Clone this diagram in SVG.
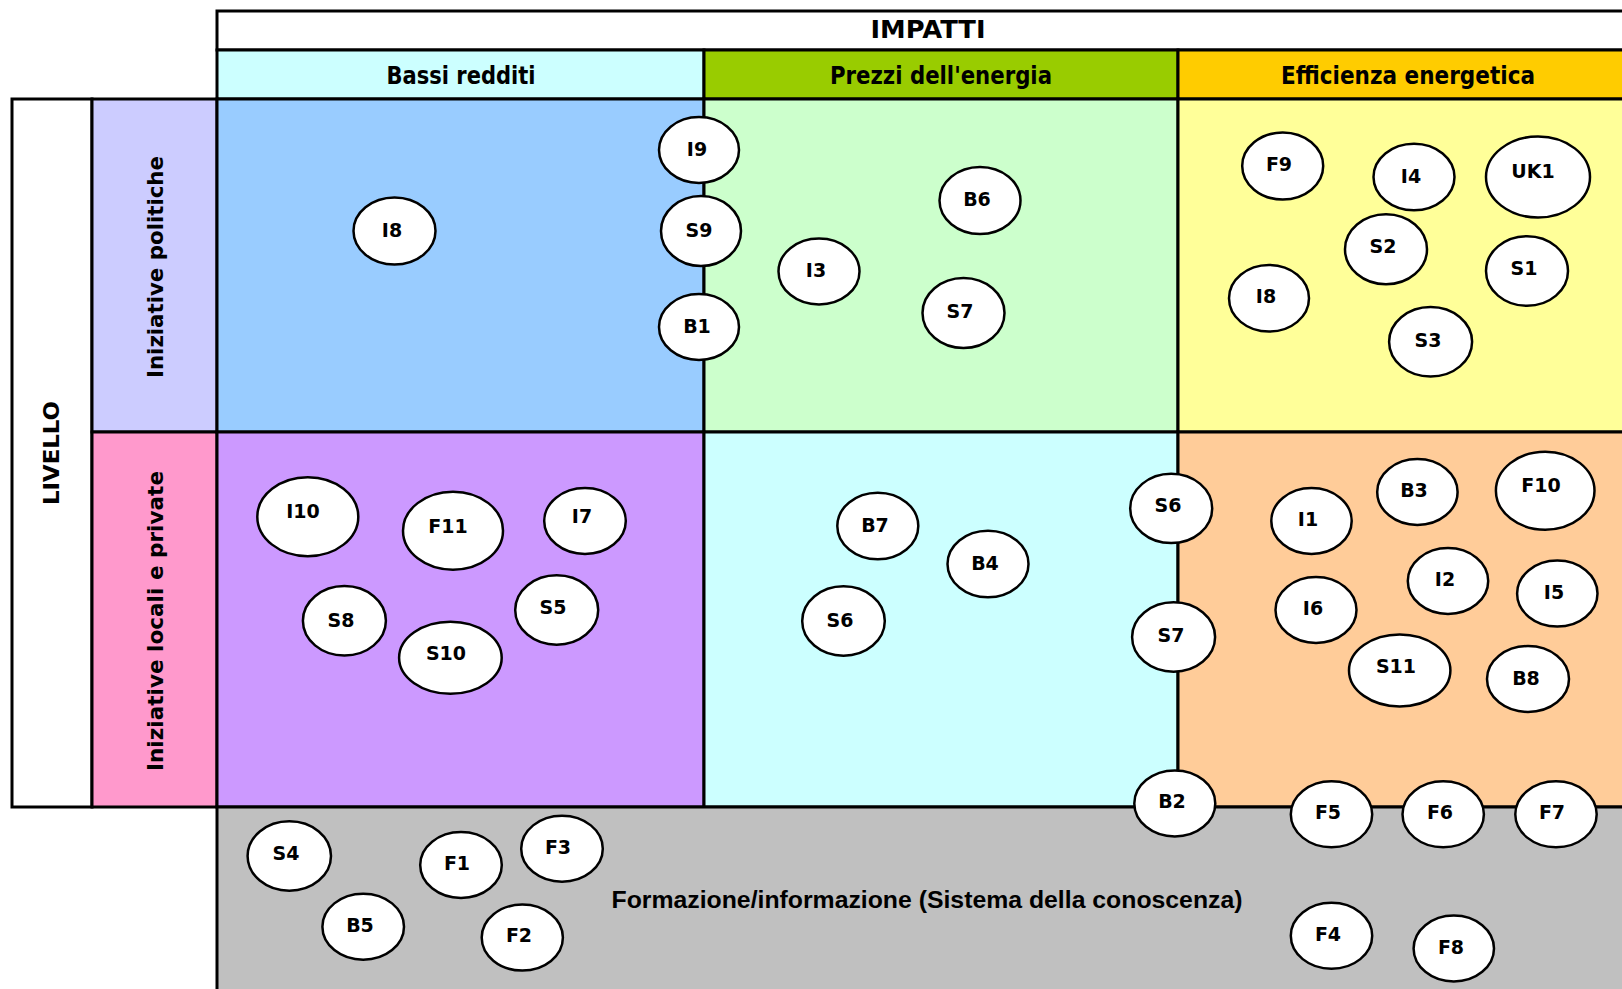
<svg xmlns="http://www.w3.org/2000/svg" width="1622" height="989" viewBox="0 0 1622 989">
<style>
.b{stroke:#000;stroke-width:3;}
.n ellipse{fill:#fff;stroke:#000;stroke-width:2.5;}
.n text{font-family:"DejaVu Sans",sans-serif;font-weight:bold;font-size:19px;text-anchor:middle;fill:#000;}
.h{font-family:"DejaVu Sans",sans-serif;font-weight:bold;font-size:24px;text-anchor:middle;fill:#000;}
.r{font-family:"DejaVu Sans",sans-serif;font-weight:bold;font-size:22px;text-anchor:middle;fill:#000;}
.f{font-family:"Liberation Sans",Arial,sans-serif;font-weight:bold;font-size:23px;text-anchor:middle;fill:#000;}
</style>
<rect width="1622" height="989" fill="#fff"/>
<g id="grid">
<rect class="b" x="217" y="11" width="1425" height="39" fill="#fff"/>
<rect class="b" x="217" y="50" width="487" height="49" fill="#CCFFFF"/>
<rect class="b" x="704" y="50" width="474" height="49" fill="#99CC00"/>
<rect class="b" x="1178" y="50" width="464" height="49" fill="#FFCC00"/>
<rect class="b" x="12" y="99" width="80" height="708" fill="#fff"/>
<rect class="b" x="92" y="99" width="125" height="333" fill="#CCCCFF"/>
<rect class="b" x="92" y="432" width="125" height="375" fill="#FF99CC"/>
<rect class="b" x="217" y="99" width="487" height="333" fill="#99CCFF"/>
<rect class="b" x="704" y="99" width="474" height="333" fill="#CCFFCC"/>
<rect class="b" x="1178" y="99" width="464" height="333" fill="#FFFF99"/>
<rect class="b" x="217" y="432" width="487" height="375" fill="#CC99FF"/>
<rect class="b" x="704" y="432" width="474" height="375" fill="#CCFFFF"/>
<rect class="b" x="1178" y="432" width="464" height="375" fill="#FFCC99"/>
<rect class="b" x="217" y="807" width="1425" height="200" fill="#C0C0C0"/>
</g>
<g id="labels">
<text class="h" x="928" y="38" textLength="115" lengthAdjust="spacingAndGlyphs">IMPATTI</text>
<text class="h" x="461" y="84" textLength="149" lengthAdjust="spacingAndGlyphs">Bassi redditi</text>
<text class="h" x="941" y="84" textLength="222" lengthAdjust="spacingAndGlyphs">Prezzi dell'energia</text>
<text class="h" x="1408" y="84" textLength="254" lengthAdjust="spacingAndGlyphs">Efficienza energetica</text>
<text class="r" transform="translate(59,453) rotate(-90)" textLength="104" lengthAdjust="spacingAndGlyphs">LIVELLO</text>
<text class="r" transform="translate(163,267) rotate(-90)" textLength="222" lengthAdjust="spacingAndGlyphs">Iniziative politiche</text>
<text class="r" transform="translate(163,621) rotate(-90)" textLength="300" lengthAdjust="spacingAndGlyphs">Iniziative locali e private</text>
<text class="f" x="927" y="908" textLength="631" lengthAdjust="spacingAndGlyphs">Formazione/informazione (Sistema della conoscenza)</text>
</g>
<g id="connectors"/>
<g id="nodes">
<g id="n-I9" class="n"><ellipse cx="699" cy="150" rx="40" ry="33"/><text x="697" y="156">I9</text></g>
<g id="n-S9" class="n"><ellipse cx="701" cy="231" rx="40" ry="35"/><text x="699" y="237">S9</text></g>
<g id="n-B1" class="n"><ellipse cx="699" cy="327" rx="40" ry="33"/><text x="697" y="333">B1</text></g>
<g id="n-I8a" class="n"><ellipse cx="394.5" cy="231" rx="41" ry="33.5"/><text x="392" y="237">I8</text></g>
<g id="n-B6" class="n"><ellipse cx="980" cy="200.5" rx="40.5" ry="33.5"/><text x="977" y="206">B6</text></g>
<g id="n-I3" class="n"><ellipse cx="819" cy="271.5" rx="40.5" ry="33"/><text x="816" y="277">I3</text></g>
<g id="n-S7a" class="n"><ellipse cx="963.5" cy="313" rx="41" ry="35"/><text x="960" y="318">S7</text></g>
<g id="n-F9" class="n"><ellipse cx="1282.7" cy="166" rx="40.5" ry="33.5"/><text x="1279" y="171">F9</text></g>
<g id="n-I4" class="n"><ellipse cx="1414" cy="177" rx="40.5" ry="33.3"/><text x="1411" y="183">I4</text></g>
<g id="n-UK1" class="n"><ellipse cx="1538" cy="177" rx="52" ry="40.5"/><text x="1533" y="178">UK1</text></g>
<g id="n-S2" class="n"><ellipse cx="1386" cy="249.3" rx="41" ry="35"/><text x="1383" y="253">S2</text></g>
<g id="n-S1" class="n"><ellipse cx="1527" cy="271" rx="41" ry="34.8"/><text x="1524" y="275">S1</text></g>
<g id="n-I8b" class="n"><ellipse cx="1269" cy="298.3" rx="40" ry="33.3"/><text x="1266" y="303">I8</text></g>
<g id="n-S3" class="n"><ellipse cx="1430.6" cy="341.8" rx="41.5" ry="34.8"/><text x="1428" y="347">S3</text></g>
<g id="n-I10" class="n"><ellipse cx="307.8" cy="516.7" rx="50.5" ry="39.5"/><text x="303" y="518">I10</text></g>
<g id="n-F11" class="n"><ellipse cx="453" cy="530.7" rx="50" ry="39"/><text x="448" y="533">F11</text></g>
<g id="n-I7" class="n"><ellipse cx="585" cy="521" rx="40.8" ry="33"/><text x="582" y="523">I7</text></g>
<g id="n-S8" class="n"><ellipse cx="344.4" cy="620.8" rx="41.5" ry="34.7"/><text x="341" y="627">S8</text></g>
<g id="n-S10" class="n"><ellipse cx="450.4" cy="657.7" rx="51.3" ry="36"/><text x="446" y="660">S10</text></g>
<g id="n-S5" class="n"><ellipse cx="556.7" cy="610" rx="41.5" ry="34.7"/><text x="553" y="614">S5</text></g>
<g id="n-B7" class="n"><ellipse cx="877.8" cy="526" rx="40.5" ry="33.3"/><text x="875" y="532">B7</text></g>
<g id="n-B4" class="n"><ellipse cx="988" cy="564" rx="40.5" ry="33.3"/><text x="985" y="570">B4</text></g>
<g id="n-S6a" class="n"><ellipse cx="843.5" cy="621" rx="41.3" ry="34.7"/><text x="840" y="627">S6</text></g>
<g id="n-S6b" class="n"><ellipse cx="1171.2" cy="508.4" rx="41" ry="34.7"/><text x="1168" y="512">S6</text></g>
<g id="n-S7b" class="n"><ellipse cx="1173.6" cy="637" rx="41.5" ry="34.7"/><text x="1171" y="642">S7</text></g>
<g id="n-B2" class="n"><ellipse cx="1174.8" cy="803.4" rx="40.5" ry="33"/><text x="1172" y="808">B2</text></g>
<g id="n-I1" class="n"><ellipse cx="1311.5" cy="521" rx="40.2" ry="33"/><text x="1308" y="526">I1</text></g>
<g id="n-B3" class="n"><ellipse cx="1417.4" cy="492" rx="40.2" ry="33"/><text x="1414" y="497">B3</text></g>
<g id="n-F10" class="n"><ellipse cx="1545.2" cy="490.7" rx="49.3" ry="39"/><text x="1541" y="492">F10</text></g>
<g id="n-I2" class="n"><ellipse cx="1448" cy="581" rx="40.2" ry="33"/><text x="1445" y="586">I2</text></g>
<g id="n-I5" class="n"><ellipse cx="1557.3" cy="593.6" rx="40.2" ry="33"/><text x="1554" y="599">I5</text></g>
<g id="n-I6" class="n"><ellipse cx="1316" cy="610" rx="40.5" ry="33"/><text x="1313" y="615">I6</text></g>
<g id="n-S11" class="n"><ellipse cx="1399.7" cy="670.4" rx="50.7" ry="36"/><text x="1396" y="673">S11</text></g>
<g id="n-B8" class="n"><ellipse cx="1528" cy="679" rx="41" ry="33"/><text x="1526" y="685">B8</text></g>
<g id="n-F5" class="n"><ellipse cx="1331.5" cy="814.3" rx="40.7" ry="33"/><text x="1328" y="819">F5</text></g>
<g id="n-F6" class="n"><ellipse cx="1443.2" cy="814.3" rx="40.7" ry="33"/><text x="1440" y="819">F6</text></g>
<g id="n-F7" class="n"><ellipse cx="1556" cy="814.3" rx="40.7" ry="33"/><text x="1552" y="819">F7</text></g>
<g id="n-S4" class="n"><ellipse cx="289.3" cy="856" rx="41.7" ry="34.7"/><text x="286" y="860">S4</text></g>
<g id="n-F1" class="n"><ellipse cx="461" cy="865" rx="40.8" ry="33"/><text x="457" y="870">F1</text></g>
<g id="n-F3" class="n"><ellipse cx="562" cy="848.7" rx="40.8" ry="33"/><text x="558" y="854">F3</text></g>
<g id="n-B5" class="n"><ellipse cx="363.2" cy="926.7" rx="40.8" ry="33"/><text x="360" y="932">B5</text></g>
<g id="n-F2" class="n"><ellipse cx="522.3" cy="937.6" rx="40.6" ry="33"/><text x="519" y="942">F2</text></g>
<g id="n-F4" class="n"><ellipse cx="1331.5" cy="935.8" rx="40.7" ry="33"/><text x="1328" y="941">F4</text></g>
<g id="n-F8" class="n"><ellipse cx="1453.8" cy="948.5" rx="40.2" ry="33"/><text x="1451" y="954">F8</text></g>
</g>
</svg>
